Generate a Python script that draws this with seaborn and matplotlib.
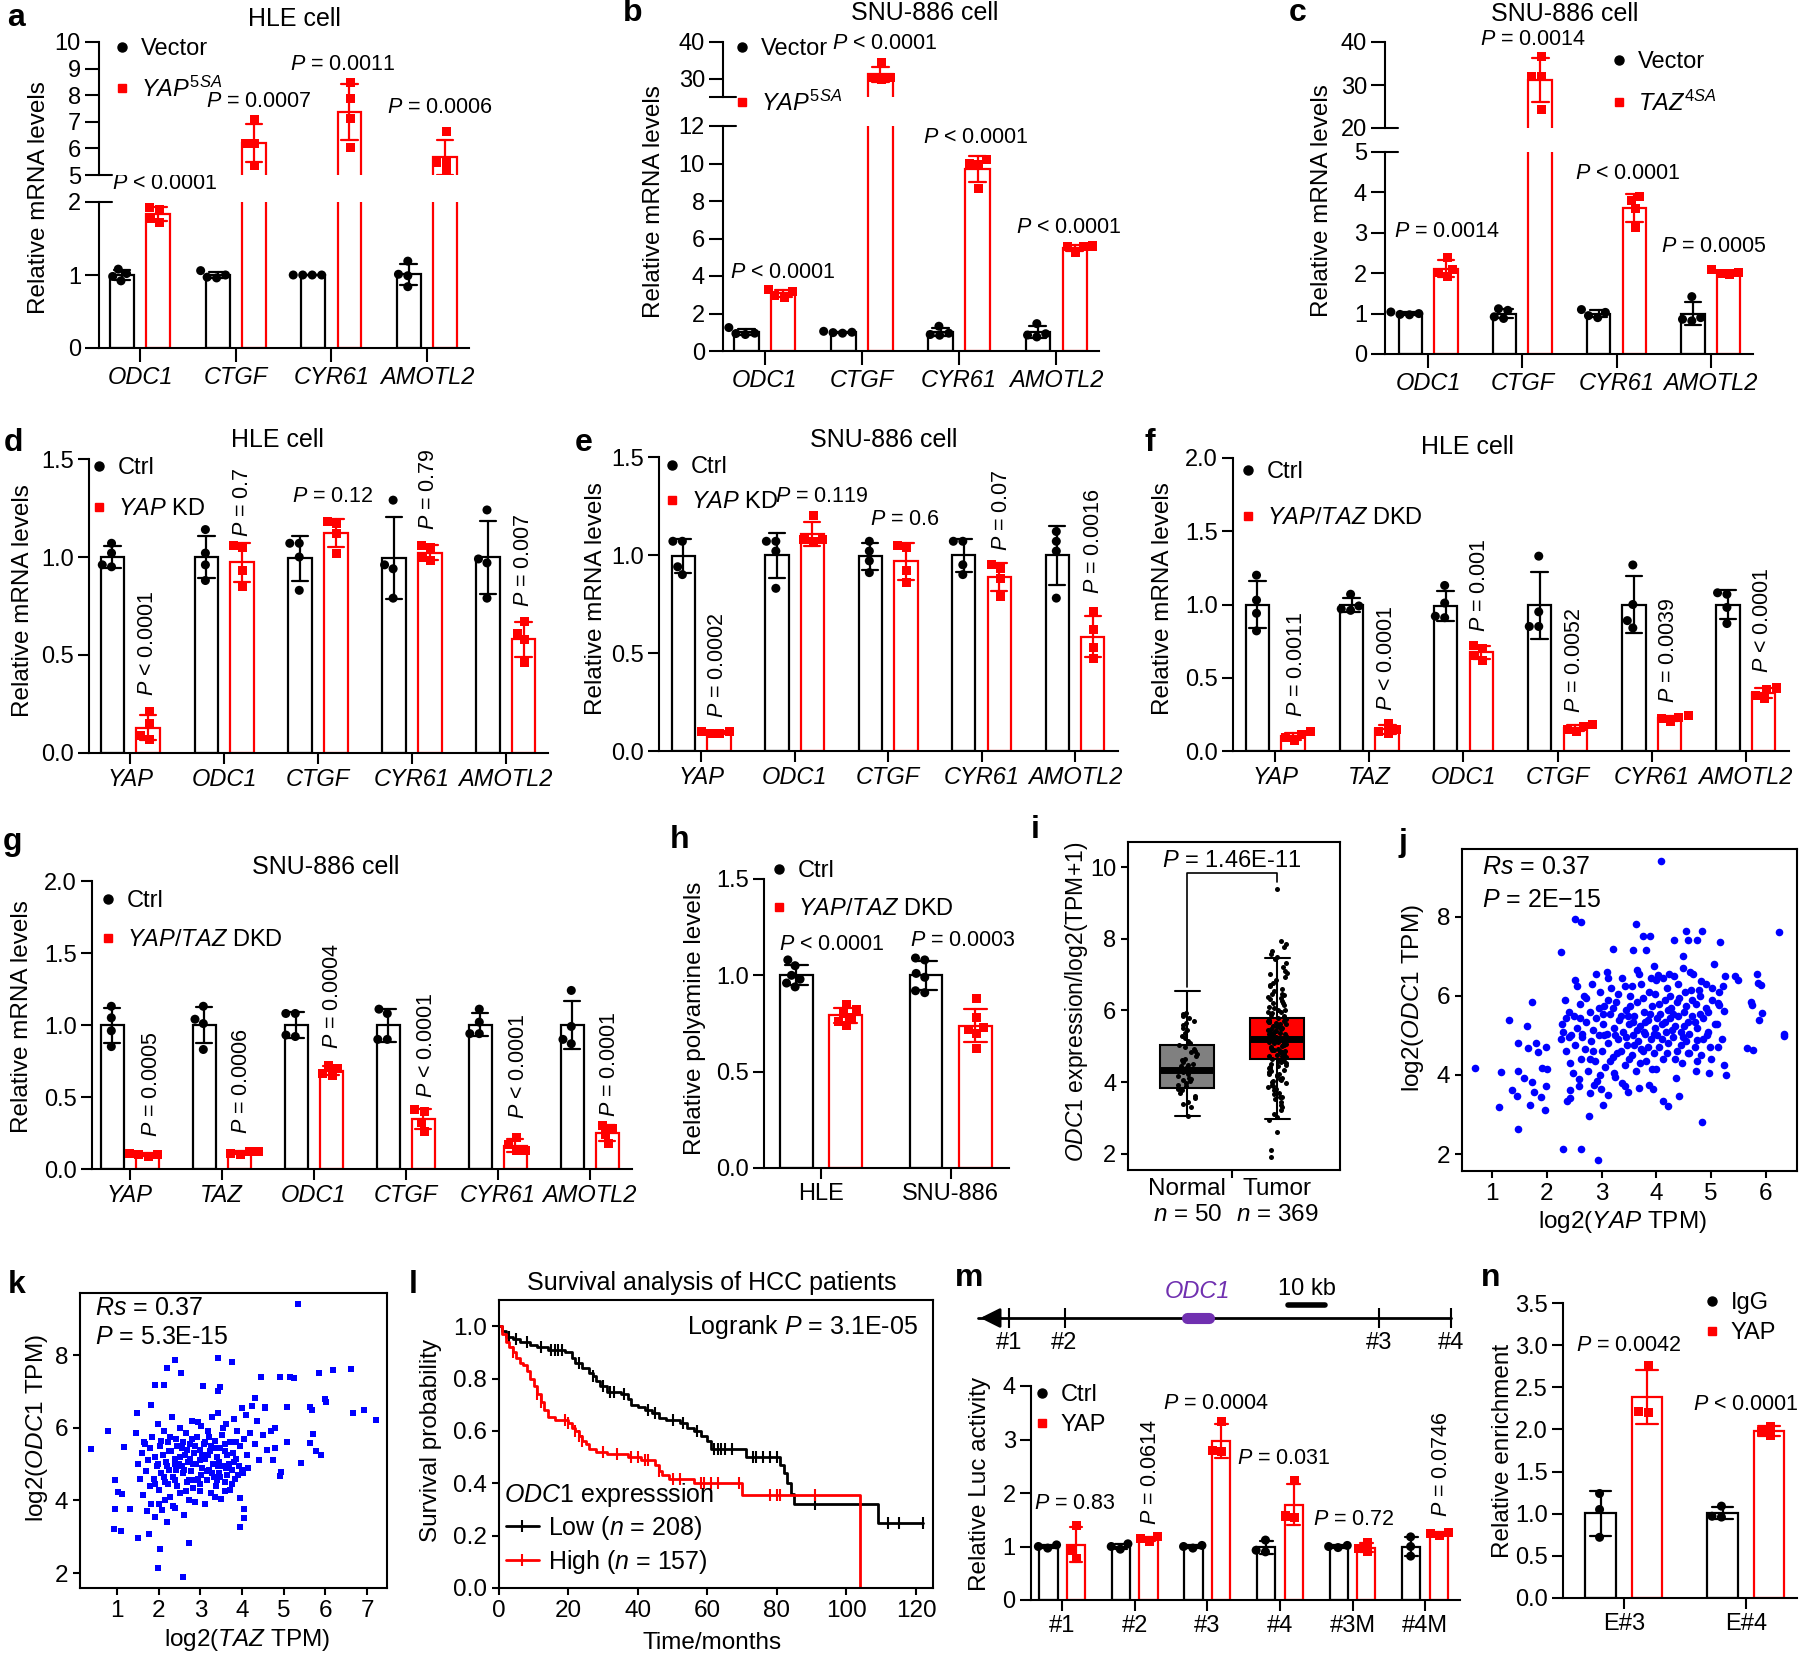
import numpy as np
import pandas as pd
import matplotlib
matplotlib.use("Agg")
import matplotlib.pyplot as plt
from matplotlib.lines import Line2D
from matplotlib.legend import Legend
import seaborn as sns

W, H = 1800, 1655
RED, BLUE, GREY, PURPLE = "#ff0000", "#0000ff", "#808080", "#7030b0"

# ---------------- data ----------------
genes4 = ["ODC1", "CTGF", "CYR61", "AMOTL2"]
a_vector = [[0.92, 0.98, 1.02, 1.08], [0.96, 0.97, 1.0, 1.06], [1.0, 1.0, 1.0, 1.0], [0.84, 0.99, 1.01, 1.19]]
a_yap5sa = [[1.72, 1.78, 1.9, 1.92], [5.35, 6.2, 6.2, 7.1], [6.04, 7.12, 7.86, 8.46], [5.12, 5.46, 5.46, 6.62]]
b_vector = [[0.88, 0.93, 0.95, 1.25], [0.95, 0.98, 1.0, 1.05], [0.84, 0.88, 0.95, 1.32], [0.75, 0.85, 0.92, 1.46]]
b_yap5sa = [[2.88, 2.95, 3.15, 3.3], [29.7, 30.2, 30.4, 34.3], [8.67, 9.96, 10.0, 10.2], [5.28, 5.55, 5.58, 5.6]]
c_vector = [[0.97, 0.98, 1.0, 1.04], [0.88, 0.92, 1.08, 1.12], [0.9, 0.95, 1.03, 1.1], [0.82, 0.86, 0.9, 1.42]]
c_taz4sa = [[1.92, 2.02, 2.1, 2.4], [24.2, 31.9, 32.0, 36.7], [3.13, 3.6, 3.8, 3.9], [1.98, 2.0, 2.02, 2.08]]

genes5 = ["YAP", "ODC1", "CTGF", "CYR61", "AMOTL2"]
d_ctrl = [[0.95, 0.96, 1.02, 1.07], [0.88, 0.96, 1.02, 1.14], [0.83, 1.0, 1.07, 1.07], [0.79, 0.94, 0.96, 1.29], [0.79, 0.97, 0.99, 1.24]]
d_kd = [[0.07, 0.09, 0.15, 0.21], [0.85, 0.93, 1.05, 1.06], [1.02, 1.12, 1.17, 1.18], [0.98, 1.0, 1.05, 1.06], [0.46, 0.58, 0.61, 0.67]]
e_ctrl = [[0.9, 0.94, 1.07, 1.07], [0.83, 1.02, 1.07, 1.07], [0.91, 0.97, 1.02, 1.07], [0.9, 0.95, 1.07, 1.07], [0.78, 1.02, 1.07, 1.12]]
e_kd = [[0.09, 0.09, 0.1, 0.1], [1.07, 1.08, 1.08, 1.2], [0.86, 0.92, 1.04, 1.05], [0.79, 0.88, 0.93, 0.95], [0.47, 0.53, 0.62, 0.71]]

genes6 = ["YAP", "TAZ", "ODC1", "CTGF", "CYR61", "AMOTL2"]
f_ctrl = [[0.82, 0.94, 1.03, 1.2], [0.96, 0.97, 0.99, 1.07], [0.91, 0.92, 1.01, 1.13], [0.85, 0.85, 0.95, 1.33], [0.84, 0.89, 1.0, 1.27], [0.87, 0.98, 1.07, 1.08]]
f_dkd = [[0.07, 0.09, 0.11, 0.13], [0.12, 0.13, 0.15, 0.19], [0.62, 0.65, 0.7, 0.72], [0.13, 0.15, 0.17, 0.18], [0.2, 0.22, 0.23, 0.24], [0.36, 0.38, 0.42, 0.43]]
g_ctrl = [[0.85, 0.96, 1.05, 1.13], [0.83, 1.01, 1.04, 1.13], [0.92, 0.93, 1.08, 1.08], [0.9, 0.9, 1.08, 1.11], [0.94, 0.94, 1.02, 1.11], [0.87, 0.9, 0.99, 1.24]]
g_dkd = [[0.09, 0.1, 0.1, 0.11], [0.1, 0.11, 0.12, 0.12], [0.65, 0.66, 0.7, 0.72], [0.26, 0.32, 0.4, 0.41], [0.13, 0.13, 0.17, 0.22], [0.18, 0.24, 0.28, 0.3]]

cells_h = ["HLE", "SNU-886"]
h_ctrl = [[0.94, 0.96, 0.98, 1.0, 1.05, 1.08], [0.91, 0.92, 0.99, 1.01, 1.08, 1.09]]
h_dkd = [[0.74, 0.76, 0.78, 0.8, 0.82, 0.85], [0.62, 0.7, 0.72, 0.73, 0.78, 0.88]]

# panel i: GEPIA box statistics and sample values
box_groups = ["Normal", "Tumor"]
box_q1 = [3.84, 4.65]
box_med = [4.34, 5.2]
box_q3 = [5.04, 5.79]
box_lo = [3.06, 2.97]
box_hi = [6.54, 7.46]
normal_vals = [3.05, 3.3, 3.4, 3.46, 3.55, 3.62, 3.7, 3.78, 3.82, 3.88, 3.92, 3.97, 4.02, 4.05, 4.08, 4.12, 4.18,
               4.22, 4.27, 4.3, 4.33, 4.36, 4.4, 4.44, 4.48, 4.52, 4.57, 4.62, 4.66, 4.72, 4.78, 4.83, 4.88, 4.93,
               4.98, 5.03, 5.08, 5.15, 5.22, 5.3, 5.38, 5.45, 5.52, 5.6, 5.66, 5.72, 5.78, 5.85, 5.9, 5.93]
tumor_vals = [1.9, 2.1, 2.6, 2.95, 3.02, 3.1, 3.22, 3.31, 3.36, 3.44, 3.52, 3.58, 3.66, 3.7, 3.77, 3.81, 3.86,
              3.93, 3.97, 4.01, 4.06, 4.1, 4.13, 4.17, 4.22, 4.24, 4.29, 4.31, 4.36, 4.4, 4.43, 4.46, 4.5, 4.53,
              4.56, 4.6, 4.63, 4.66, 4.69, 4.71, 4.73, 4.76, 4.79, 4.8, 4.83, 4.86, 4.88, 4.91, 4.93, 4.96, 4.99,
              5.01, 5.03, 5.06, 5.08, 5.11, 5.13, 5.16, 5.18, 5.2, 5.23, 5.25, 5.27, 5.3, 5.33, 5.35, 5.37, 5.4,
              5.43, 5.45, 5.47, 5.5, 5.53, 5.55, 5.58, 5.61, 5.63, 5.66, 5.68, 5.71, 5.74, 5.77, 5.8, 5.84, 5.88,
              5.93, 5.97, 6.02, 6.06, 6.11, 6.16, 6.2, 6.26, 6.31, 6.36, 6.42, 6.47, 6.53, 6.61, 6.68, 6.77, 6.85,
              6.93, 7.02, 7.1, 7.2, 7.32, 7.44, 7.58, 7.67, 7.76, 7.85, 7.95, 9.4,
              4.02, 4.35, 4.58, 4.74, 4.9, 5.04, 5.14, 5.24, 5.34, 5.44, 5.56, 5.67, 5.82, 6.0, 6.22, 6.45,
              4.48, 4.84, 5.09, 5.29, 5.49, 5.72, 5.95, 6.38, 3.6, 3.9, 4.2, 6.7, 7.05, 7.5]

# panel j: log2(YAP TPM) vs log2(ODC1 TPM)
j_points = [
    (0.69, 4.17), (1.16, 4.07), (1.13, 3.18), (1.31, 5.40), (1.36, 3.61), (1.45, 3.47), (1.47, 2.63), (1.47, 4.81),
    (1.47, 4.11), (1.58, 3.92), (1.63, 5.23), (1.65, 4.68), (1.70, 3.23), (1.73, 5.86), (1.72, 3.83), (1.76, 3.58),
    (1.81, 4.81), (1.83, 4.57), (1.90, 3.45), (1.91, 4.17), (1.97, 3.12), (1.99, 4.72), (2.01, 4.15), (1.99, 3.71),
    (2.25, 7.11), (2.30, 2.13), (2.33, 5.91), (2.51, 7.95), (2.63, 7.87), (2.63, 2.12), (2.51, 6.41), (2.93, 1.86),
    (3.02, 3.24), (2.77, 2.95), (3.11, 6.45), (3.20, 7.19), (3.62, 7.81), (3.76, 7.53), (3.88, 7.53), (3.58, 7.17),
    (3.82, 7.17), (4.09, 9.41), (4.32, 7.41), (4.54, 7.64), (4.57, 7.41), (4.75, 7.41), (4.84, 7.64), (4.48, 7.00),
    (5.17, 7.36), (5.05, 6.82), (6.24, 7.61), (6.33, 5.04), (6.33, 4.99), (5.93, 5.57), (5.84, 6.56), (5.86, 6.33),
    (5.91, 6.29), (5.73, 5.84), (5.75, 5.78), (5.88, 5.38), (5.66, 4.68), (5.77, 4.62), (5.44, 6.51), (5.50, 6.41),
    (5.21, 6.26), (5.23, 4.26), (5.28, 4.00), (4.96, 4.05), (4.84, 2.82), (4.41, 3.47), (4.21, 3.22), (4.12, 3.35),
    (3.94, 3.64), (3.87, 3.75), (3.69, 3.67), (3.49, 3.58), (3.42, 3.72), (3.11, 3.50), (2.99, 3.64), (2.86, 3.75),
    (2.79, 3.54), (2.59, 3.71), (2.43, 3.41), (2.36, 3.33), (2.42, 3.61), (4.36, 3.92), (4.58, 4.55), (4.72, 4.11),
    (4.98, 4.72), (5.12, 4.72), (4.94, 5.08), (4.75, 4.89), (5.08, 5.30), (5.14, 5.78), (5.23, 5.61), (5.26, 6.50),
    (5.12, 5.82), (5.01, 6.20), (4.81, 6.37), (4.67, 6.56), (4.48, 6.71), (4.24, 6.56), (3.96, 6.75), (4.03, 6.54),
    (3.64, 6.67), (4.63, 6.16),
    (2.25, 4.9), (2.3, 5.1), (2.28, 5.3), (2.35, 4.6), (2.4, 5.6), (2.42, 4.3), (2.45, 5.0), (2.5, 5.5), (2.52, 4.75),
    (2.55, 5.2), (2.58, 3.9), (2.6, 5.8), (2.62, 4.4), (2.65, 5.05), (2.68, 6.0), (2.7, 4.65), (2.72, 5.35),
    (2.75, 4.1), (2.78, 5.6), (2.8, 4.85), (2.82, 6.3), (2.85, 5.15), (2.88, 4.35), (2.9, 5.45), (2.92, 3.85),
    (2.95, 5.0), (2.97, 6.1), (3.0, 4.6), (3.02, 5.3), (3.05, 5.75), (3.07, 4.2), (3.1, 5.05), (3.12, 4.8),
    (3.15, 5.55), (3.17, 6.2), (3.2, 4.45), (3.22, 5.2), (3.25, 3.95), (3.27, 5.85), (3.3, 4.9), (3.32, 5.4),
    (3.35, 4.6), (3.37, 6.45), (3.4, 5.1), (3.42, 4.25), (3.45, 5.65), (3.47, 4.75), (3.5, 5.3), (3.52, 6.0),
    (3.55, 4.5), (3.57, 5.0), (3.6, 5.5), (3.62, 4.1), (3.65, 5.85), (3.67, 4.85), (3.7, 5.25), (3.72, 6.3),
    (3.75, 4.6), (3.77, 5.6), (3.8, 5.05), (3.82, 4.35), (3.85, 5.4), (3.87, 6.1), (3.9, 4.9), (3.92, 5.75),
    (3.95, 4.55), (3.97, 5.2), (4.0, 6.4), (4.02, 5.0), (4.05, 4.7), (4.07, 5.55), (4.1, 5.3), (4.12, 4.4),
    (4.15, 5.9), (4.17, 5.1), (4.2, 6.2), (4.22, 4.8), (4.25, 5.45), (4.27, 5.7), (4.3, 4.95), (4.32, 6.5),
    (4.35, 5.25), (4.37, 4.6), (4.4, 5.5), (4.42, 5.95), (4.45, 5.1), (4.47, 4.3), (4.5, 5.6), (4.52, 6.1),
    (4.55, 4.85), (4.57, 5.35), (4.6, 5.05), (4.62, 6.6), (4.65, 5.5), (4.7, 4.7), (4.72, 5.8), (4.75, 5.2),
    (4.8, 6.0), (4.82, 4.5), (4.85, 5.45), (4.9, 6.3), (4.92, 5.0), (4.95, 5.6), (5.0, 4.4), (5.02, 5.9),
    (5.1, 5.3), (5.15, 6.1), (5.2, 4.9),
    (2.35, 5.45), (2.48, 4.05), (2.55, 6.25), (2.65, 4.95), (2.72, 5.95), (2.85, 4.6), (2.9, 6.55), (2.98, 4.0),
    (3.05, 5.0), (3.1, 6.6), (3.15, 4.35), (3.2, 5.7), (3.25, 5.0), (3.3, 6.05), (3.35, 5.5), (3.38, 3.8),
    (3.45, 4.95), (3.5, 4.4), (3.55, 6.25), (3.6, 4.75), (3.65, 5.15), (3.7, 4.3), (3.75, 5.95), (3.8, 5.35),
    (3.85, 4.7), (3.9, 6.45), (3.95, 5.05), (4.0, 4.15), (4.05, 5.8), (4.1, 4.9), (4.15, 5.35), (4.2, 4.55),
    (4.25, 6.0), (4.3, 5.55), (4.35, 4.4), (4.4, 6.3), (4.45, 4.75), (4.5, 5.25), (4.55, 5.75), (4.6, 4.55),
    (4.65, 5.9), (4.7, 5.35), (4.75, 4.35), (4.8, 5.55), (4.85, 4.9), (4.9, 5.7), (3.02, 5.55), (3.28, 4.55),
    (3.52, 5.75), (3.78, 5.1), (4.02, 5.45), (4.28, 5.15), (3.42, 6.25), (3.68, 6.55), (3.92, 4.15), (3.12, 5.9),
    (2.78, 4.4), (2.6, 5.45), (2.4, 4.95), (3.58, 5.35), (3.88, 5.55), (4.12, 6.45), (4.38, 5.85), (2.95, 5.7),
    (3.22, 4.05), (3.48, 5.5), (3.72, 4.65), (3.98, 6.05), (4.22, 5.65), (4.48, 4.95), (4.78, 6.15),
]
j_yap = [p[0] for p in j_points]
j_odc1 = [p[1] for p in j_points]

# panel k: log2(TAZ TPM) vs log2(ODC1 TPM)
k_points = [
    (0.38, 5.41), (0.78, 5.92), (0.93, 3.21), (1.10, 3.17), (0.96, 3.76), (0.96, 4.55), (1.03, 4.22), (1.12, 4.18),
    (1.16, 5.48), (1.30, 3.76), (1.48, 6.40), (1.51, 2.98), (1.45, 5.86), (1.76, 3.08), (1.81, 6.62), (1.92, 7.17),
    (2.13, 7.17), (1.99, 2.14), (2.02, 2.66), (2.19, 7.65), (2.40, 7.86), (2.54, 7.52), (2.58, 1.89), (2.72, 2.84),
    (3.06, 7.15), (3.43, 7.93), (3.47, 7.12), (3.43, 7.02), (3.77, 7.82), (3.95, 4.06), (3.95, 3.26), (4.05, 3.76),
    (4.05, 3.51), (4.46, 7.40), (4.92, 7.40), (5.15, 7.40), (5.25, 7.36), (5.35, 9.40), (5.84, 7.51), (6.18, 7.60),
    (6.62, 7.62), (6.66, 6.41), (6.93, 6.49), (7.21, 6.21), (6.01, 6.72), (5.98, 6.78), (5.64, 6.58), (5.68, 6.5),
    (5.70, 5.83), (5.63, 5.57), (5.77, 5.37), (5.90, 5.25), (5.42, 5.04), (5.08, 6.58), (5.08, 5.62), (4.92, 4.66),
    (4.78, 5.43), (4.74, 5.11), (4.94, 4.79), (4.32, 6.81), (4.56, 6.58),
    (1.5, 5.0), (1.55, 4.6), (1.6, 5.3), (1.62, 4.15), (1.65, 5.6), (1.7, 4.8), (1.72, 3.7), (1.75, 5.1),
    (1.78, 4.4), (1.8, 5.45), (1.82, 3.9), (1.85, 5.75), (1.88, 4.6), (1.9, 5.2), (1.92, 3.55), (1.95, 4.95),
    (1.98, 6.1), (2.0, 4.3), (2.02, 5.5), (2.05, 4.75), (2.08, 3.75), (2.1, 5.25), (2.12, 5.9), (2.15, 4.5),
    (2.18, 5.05), (2.2, 3.4), (2.22, 5.6), (2.25, 4.85), (2.28, 4.1), (2.3, 5.35), (2.32, 6.3), (2.35, 4.65),
    (2.38, 5.15), (2.4, 3.8), (2.42, 5.7), (2.45, 4.4), (2.48, 5.0), (2.5, 6.0), (2.52, 4.2), (2.55, 5.45),
    (2.58, 4.75), (2.6, 3.6), (2.62, 5.25), (2.65, 5.85), (2.68, 4.5), (2.7, 5.05), (2.72, 4.0), (2.75, 5.55),
    (2.78, 4.8), (2.8, 6.2), (2.82, 4.35), (2.85, 5.3), (2.88, 3.95), (2.9, 5.0), (2.92, 5.75), (2.95, 4.6),
    (2.98, 5.4), (3.0, 4.25), (3.02, 6.05), (3.05, 4.9), (3.08, 5.55), (3.1, 3.9), (3.12, 5.15), (3.15, 4.55),
    (3.18, 5.9), (3.2, 4.85), (3.22, 5.35), (3.25, 4.2), (3.28, 6.3), (3.3, 5.0), (3.32, 4.65), (3.35, 5.65),
    (3.38, 4.4), (3.4, 5.2), (3.42, 6.4), (3.45, 4.75), (3.48, 5.45), (3.5, 4.05), (3.52, 5.8), (3.55, 4.95),
    (3.58, 4.5), (3.6, 5.35), (3.62, 6.1), (3.65, 4.7), (3.68, 5.0), (3.7, 4.3), (3.72, 5.6), (3.75, 4.85),
    (3.8, 6.25), (3.82, 4.6), (3.85, 5.15), (3.88, 5.9), (3.9, 4.7), (3.95, 5.5), (4.0, 6.55), (4.02, 4.75),
    (4.05, 5.7), (4.1, 6.35), (4.12, 5.25), (4.15, 4.9), (4.2, 5.85), (4.25, 6.6), (4.3, 5.55), (4.35, 6.2),
    (4.4, 5.1), (4.5, 5.8), (4.55, 6.55), (4.6, 5.4), (4.7, 5.9), (4.8, 6.0),
    (1.68, 5.55), (1.9, 4.45), (2.05, 5.65), (2.15, 4.0), (2.25, 5.35), (2.35, 3.85), (2.45, 5.5), (2.55, 4.95),
    (2.65, 4.25), (2.75, 5.15), (2.85, 4.55), (2.95, 6.15), (3.05, 5.25), (3.15, 4.8), (3.25, 5.5), (3.35, 4.1),
    (3.45, 5.05), (3.55, 6.0), (3.65, 5.25), (3.75, 4.45), (3.85, 5.6), (1.98, 5.0), (2.12, 4.65), (2.28, 5.75),
    (2.42, 4.85), (2.58, 5.6), (2.72, 4.55), (2.88, 5.5), (3.02, 4.7), (3.18, 5.25), (3.32, 5.45), (3.48, 4.65),
    (3.62, 4.9), (3.78, 5.3), (3.92, 4.95), (2.22, 4.45), (2.38, 5.0), (2.52, 5.2), (2.68, 5.4), (2.82, 5.0),
    (2.98, 4.45), (3.12, 5.6), (3.28, 4.75), (3.42, 4.95), (3.58, 5.55), (2.0, 3.9), (2.2, 4.95), (2.4, 4.55),
    (2.6, 4.85), (2.8, 5.7), (3.0, 5.1), (3.2, 5.75), (3.4, 4.55), (3.6, 4.25), (3.8, 5.05), (4.0, 4.85),
]
k_taz = [p[0] for p in k_points]
k_odc1 = [p[1] for p in k_points]

# panel l: Kaplan-Meier steps (months, survival) and censor times
low_t = [0, 1, 2, 4, 6, 9, 11, 14, 19, 21, 22, 24, 26, 27, 28, 29, 31, 35, 37, 38, 40, 42, 44, 46, 48, 52, 54,
         56, 58, 60, 61, 71, 81, 82, 83, 84, 85, 109, 122]
low_s = [1.0, 0.98, 0.96, 0.95, 0.94, 0.93, 0.92, 0.91, 0.90, 0.88, 0.86, 0.84, 0.82, 0.81, 0.79, 0.77, 0.75,
         0.74, 0.72, 0.70, 0.69, 0.68, 0.67, 0.65, 0.64, 0.63, 0.61, 0.60, 0.58, 0.56, 0.53, 0.50, 0.47, 0.44,
         0.40, 0.36, 0.32, 0.25, 0.25]
low_cens = [3, 5, 8, 12, 15, 16, 17, 18, 23, 27, 30, 32, 33, 36, 43, 45, 50, 53, 57, 62, 63, 64, 65, 67, 73,
            74, 76, 78, 80, 91, 112, 115, 122]
high_t = [0, 1, 2, 3, 4, 5, 6, 7, 8, 9, 10, 11, 12, 13, 14, 16, 20, 21, 22, 23, 24, 25, 26, 28, 31, 37, 41,
          45, 46, 47, 49, 56, 70, 104]
high_s = [1.0, 0.97, 0.94, 0.92, 0.90, 0.88, 0.86, 0.85, 0.83, 0.80, 0.77, 0.74, 0.71, 0.68, 0.655, 0.64,
          0.63, 0.61, 0.60, 0.58, 0.56, 0.55, 0.53, 0.52, 0.51, 0.50, 0.49, 0.47, 0.445, 0.43, 0.415, 0.40,
          0.355, 0.0]
high_cens = [4, 11, 12, 19, 20, 22, 23, 24, 30, 34, 38, 40, 42, 43, 46, 50, 52, 58, 59, 61, 63, 69, 78, 80, 81, 91]

# panel m: reporter sites (kb from site #1) and luciferase activity
site_names = ["#1", "#2", "#3", "#4"]
site_kb = [0, 15, 100, 119.5]
track_kb = [-8.5, 119.5]
odc1_kb = [48, 54]
scale_kb = [75.5, 85.5]
sites_m = ["#1", "#2", "#3", "#4", "#3M", "#4M"]
m_ctrl = [[0.97, 1.0, 1.03], [0.95, 1.0, 1.05], [0.97, 1.0, 1.02], [0.9, 0.93, 1.12], [0.98, 1.0, 1.02], [0.82, 1.0, 1.18]]
m_yap = [[0.78, 0.93, 1.4], [1.1, 1.15, 1.18], [2.77, 2.8, 3.33], [1.55, 1.57, 2.23], [0.9, 0.97, 1.07], [1.2, 1.24, 1.27]]

# panel n: ChIP enrichment
sites_n = ["E#3", "E#4"]
n_igg = [[0.72, 1.05, 1.24], [0.96, 0.97, 1.09]]
n_yap = [[2.2, 2.21, 2.76], [1.93, 1.97, 2.04]]

# ---------------- style ----------------
sns.set_theme(style="ticks")
plt.rcParams["font.family"] = ["Liberation Sans", "DejaVu Sans"]
plt.rcParams.update({
    "mathtext.fontset": "custom",
    "mathtext.rm": "Liberation Sans",
    "mathtext.sf": "Liberation Sans",
    "mathtext.it": "Liberation Sans:italic",
    "mathtext.bf": "Liberation Sans:bold",
    "axes.linewidth": 1.5,
    "axes.edgecolor": "black",
    "xtick.color": "black",
    "ytick.color": "black",
    "text.color": "black",
})

fig = plt.figure(figsize=(W / 100, H / 100), dpi=100)


def px_axes(x0, y0, x1, y1):
    return fig.add_axes([x0 / W, 1 - y1 / H, (x1 - x0) / W, (y1 - y0) / H])


def ftext(x, y, s, **kw):
    kw.setdefault("ha", "center")
    kw.setdefault("va", "center")
    kw.setdefault("fontsize", 17.5)
    fig.text(x / W, 1 - y / H, s, **kw)


def letter(x, y, s):
    ftext(x, y, s, fontsize=23, fontweight="bold")


def ylab(x, y, s, fs=17.5):
    ftext(x, y, s, rotation=90, fontsize=fs)


def P(s):
    return r"$\mathit{P}$ " + s


def ptext(ax, x, y, s, rot=False, fs=15.5, ha="center"):
    ax.text(x, y, s, rotation=90 if rot else 0, ha=ha, va="bottom" if rot else "center",
            fontsize=fs, clip_on=False)


def long_df(cats, groups, series):
    rows = [(c, g, v) for g, vals in zip(groups, series) for c, vs in zip(cats, vals) for v in vs]
    return pd.DataFrame(rows, columns=["cat", "group", "value"])


def bars(ax, cats, groups, series, colors=("black", RED), markers=("o", "s")):
    df = long_df(cats, groups, series)
    pal = dict(zip(groups, colors))
    for g, c in zip(groups, colors):
        sns.barplot(data=df[df["group"] == g], x="cat", y="value", hue="group", order=cats,
                    hue_order=groups, palette=pal, dodge=True, fill=False, width=0.76, gap=0.34,
                    linewidth=1.6, errorbar="sd", capsize=0.35,
                    err_kws={"color": c, "linewidth": 1.6}, legend=False, ax=ax)
    for g, m in zip(groups, markers):
        sns.swarmplot(data=df[df["group"] == g], x="cat", y="value", hue="group", order=cats,
                      hue_order=groups, palette=pal, dodge=True, marker=m, size=6.5,
                      linewidth=0, legend=False, ax=ax, zorder=4)
    ax.set_xlabel("")
    ax.set_ylabel("")


def style(ax, cats, xlim, ylim, yticks, ylabels=None, italic=True, xaxis=True, tl=8):
    ax.set_xlim(*xlim)
    ax.set_ylim(*ylim)
    ax.set_yticks(yticks, ylabels if ylabels is not None else [f"{t:g}" for t in yticks])
    sns.despine(ax=ax)
    if xaxis:
        ax.set_xticks(range(len(cats)), cats, fontstyle="italic" if italic else "normal")
    else:
        ax.spines["bottom"].set_visible(False)
        ax.set_xticks([])
    ax.tick_params(length=tl, width=1.5, labelsize=17, pad=3)


def break_marks(low, up, n_px=13):
    for ax, y in ((low, 1), (up, 0)):
        w = ax.get_position().width * W
        ax.plot([0, n_px / w], [y, y], transform=ax.transAxes, color="black", lw=1.5, clip_on=False)


def legend_row(ax, handle, label, left_px, y_px, hl=0.8, fs=17):
    lg = Legend(ax, [handle], [label], loc="center left",
                bbox_to_anchor=(left_px / W, 1 - y_px / H), bbox_transform=fig.transFigure,
                frameon=False, fontsize=fs, handlelength=hl, handletextpad=0.4,
                borderpad=0, borderaxespad=0)
    ax.add_artist(lg)


def dot_legend(ax, labels, x, ys, colors=("black", RED), markers=("o", "s")):
    for lab, y, c, m in zip(labels, ys, colors, markers):
        h = Line2D([], [], ls="none", marker=m, color=c, ms=6.5 if m == "o" else 6)
        legend_row(ax, h, lab, x - 0.4 * 17 * 100 / 72, y)


dec = lambda ts: [f"{t:.1f}" for t in ts]

# ---------------- a ----------------
a_lo, a_up = px_axes(99, 202, 469, 348), px_axes(99, 42, 469, 175)
for ax in (a_lo, a_up):
    bars(ax, genes4, ["Vector", "YAP5SA"], [a_vector, a_yap5sa])
style(a_lo, genes4, (-0.43, 3.44), (0, 2), [0, 1, 2], tl=10)
style(a_up, genes4, (-0.43, 3.44), (5, 10), [5, 6, 7, 8, 9, 10], xaxis=False, tl=10)
break_marks(a_lo, a_up)
ptext(a_lo, 0.26, 2.26, P("< 0.0001"))
ptext(a_up, 1.24, 7.78, P("= 0.0007"))
ptext(a_up, 2.12, 9.17, P("= 0.0011"))
ptext(a_up, 3.14, 7.55, P("= 0.0006"))
dot_legend(a_up, ["Vector", r"$\mathit{YAP}^{\mathit{5SA}}$"], 122, [49, 89])
letter(16, 18, "a"); ftext(294, 19, "HLE cell", fontsize=18)
ylab(39, 198, "Relative mRNA levels")

# ---------------- b ----------------
b_lo, b_up = px_axes(723, 126, 1099, 351), px_axes(723, 42, 1099, 97)
for ax in (b_lo, b_up):
    bars(ax, genes4, ["Vector", "YAP5SA"], [b_vector, b_yap5sa])
style(b_lo, genes4, (-0.43, 3.44), (0, 12), [0, 2, 4, 6, 8, 10, 12], tl=10)
style(b_up, genes4, (-0.43, 3.44), (25, 40), [25, 30, 40], ["", "30", "40"], xaxis=False, tl=10)
break_marks(b_lo, b_up)
ptext(b_lo, 0.18, 4.2, P("< 0.0001"))
ptext(b_up, 1.24, 39.5, P("< 0.0001"))
ptext(b_lo, 2.17, 11.4, P("< 0.0001"))
ptext(b_lo, 3.13, 6.6, P("< 0.0001"))
dot_legend(b_up, ["Vector", r"$\mathit{YAP}^{\mathit{5SA}}$"], 742, [49, 103])
letter(633, 13, "b"); ftext(925, 13, "SNU-886 cell", fontsize=18)
ylab(654, 202, "Relative mRNA levels")

# ---------------- c ----------------
c_lo, c_up = px_axes(1385, 152, 1753, 354), px_axes(1385, 42, 1753, 128)
for ax in (c_lo, c_up):
    bars(ax, genes4, ["Vector", "TAZ4SA"], [c_vector, c_taz4sa])
style(c_lo, genes4, (-0.46, 3.45), (0, 5), [0, 1, 2, 3, 4, 5], tl=10)
style(c_up, genes4, (-0.46, 3.45), (20, 40), [20, 30, 40], xaxis=False, tl=10)
break_marks(c_lo, c_up)
ptext(c_lo, 0.2, 3.02, P("= 0.0014"))
ptext(c_up, 1.11, 40.5, P("= 0.0014"))
ptext(c_lo, 2.12, 4.48, P("< 0.0001"))
ptext(c_lo, 3.03, 2.67, P("= 0.0005"))
dot_legend(c_up, ["Vector", r"$\mathit{TAZ}^{\mathit{4SA}}$"], 1619, [62, 103])
letter(1298, 13, "c"); ftext(1565, 14, "SNU-886 cell", fontsize=18)
ylab(1322, 201, "Relative mRNA levels")

# ---------------- d ----------------
ax = px_axes(89, 459, 548, 753)
bars(ax, genes5, ["Ctrl", "KD"], [d_ctrl, d_kd])
style(ax, genes5, (-0.44, 4.45), (0, 1.5), [0, 0.5, 1, 1.5], dec([0, 0.5, 1, 1.5]))
ptext(ax, 0.18, 0.29, P("< 0.0001"), rot=True)
ptext(ax, 1.2, 1.10, P("= 0.7"), rot=True)
ptext(ax, 2.16, 1.31, P("= 0.12"))
ptext(ax, 3.18, 1.14, P("= 0.79"), rot=True)
ptext(ax, 4.19, 0.745, P("= 0.007"), rot=True)
dot_legend(ax, ["Ctrl", r"$\mathit{YAP}$ KD"], 99, [468, 509])
letter(13, 443, "d"); ftext(277, 440, "HLE cell", fontsize=18)
ylab(23, 601, "Relative mRNA levels")

# ---------------- e ----------------
ax = px_axes(659, 457, 1118, 751)
bars(ax, genes5, ["Ctrl", "KD"], [e_ctrl, e_kd])
style(ax, genes5, (-0.45, 4.46), (0, 1.5), [0, 0.5, 1, 1.5], dec([0, 0.5, 1, 1.5]))
ptext(ax, 0.18, 0.17, P("= 0.0002"), rot=True)
ptext(ax, 1.29, 1.30, P("= 0.119"))
ptext(ax, 2.18, 1.18, P("= 0.6"))
ptext(ax, 3.21, 1.02, P("= 0.07"), rot=True)
ptext(ax, 4.2, 0.80, P("= 0.0016"), rot=True)
dot_legend(ax, ["Ctrl", r"$\mathit{YAP}$ KD"], 672, [467, 502])
letter(584, 443, "e"); ftext(884, 440, "SNU-886 cell", fontsize=18)
ylab(596, 599, "Relative mRNA levels")

# ---------------- f ----------------
ax = px_axes(1233, 458, 1789, 751)
bars(ax, genes6, ["Ctrl", "DKD"], [f_ctrl, f_dkd])
style(ax, genes6, (-0.45, 5.46), (0, 2), [0, 0.5, 1, 1.5, 2], dec([0, 0.5, 1, 1.5, 2]))
for x, y, s in [(0.23, 0.23, "= 0.0011"), (1.18, 0.27, "< 0.0001"), (2.17, 0.81, "= 0.001"),
                (3.18, 0.26, "= 0.0052"), (4.18, 0.33, "= 0.0039"), (5.18, 0.53, "< 0.0001")]:
    ptext(ax, x, y, P(s), rot=True)
dot_legend(ax, ["Ctrl", r"$\mathit{YAP/TAZ}$ DKD"], 1248, [472, 518])
letter(1150, 443, "f"); ftext(1467, 447, "HLE cell", fontsize=18)
ylab(1163, 599, "Relative mRNA levels")

# ---------------- g ----------------
ax = px_axes(92, 881, 632, 1169)
bars(ax, genes6, ["Ctrl", "DKD"], [g_ctrl, g_dkd])
style(ax, genes6, (-0.41, 5.46), (0, 2), [0, 0.5, 1, 1.5, 2], dec([0, 0.5, 1, 1.5, 2]))
for x, y, s in [(0.24, 0.22, "= 0.0005"), (1.22, 0.24, "= 0.0006"), (2.2, 0.83, "= 0.0004"),
                (3.23, 0.49, "< 0.0001"), (4.23, 0.35, "< 0.0001"), (5.21, 0.36, "= 0.0001")]:
    ptext(ax, x, y, P(s), rot=True)
dot_legend(ax, ["Ctrl", r"$\mathit{YAP/TAZ}$ DKD"], 108, [901, 940])
letter(12, 842, "g"); ftext(326, 867, "SNU-886 cell", fontsize=18)
ylab(22, 1017, "Relative mRNA levels")

# ---------------- h ----------------
ax = px_axes(764, 879, 1009, 1168)
bars(ax, cells_h, ["Ctrl", "DKD"], [h_ctrl, h_dkd])
style(ax, cells_h, (-0.44, 1.45), (0, 1.5), [0, 0.5, 1, 1.5], dec([0, 0.5, 1, 1.5]), italic=False)
ptext(ax, 0.08, 1.16, P("< 0.0001"))
ptext(ax, 1.09, 1.18, P("= 0.0003"))
dot_legend(ax, ["Ctrl", r"$\mathit{YAP/TAZ}$ DKD"], 779, [871, 909])
letter(680, 840, "h")
ylab(695, 1018, "Relative polyamine levels")

# ---------------- i ----------------
ax = px_axes(1128, 842, 1340, 1170)
stats = [dict(med=m, q1=q1, q3=q3, whislo=lo, whishi=hi, fliers=[])
         for m, q1, q3, lo, hi in zip(box_med, box_q1, box_q3, box_lo, box_hi)]
bp = ax.bxp(stats, positions=[0, 1], widths=0.6, patch_artist=True, showfliers=False,
            medianprops=dict(color="black", linewidth=5), whiskerprops=dict(color="black", lw=1.5),
            capprops=dict(color="black", lw=1.5), capwidths=0.28,
            boxprops=dict(edgecolor="black", linewidth=1.5))
for patch, col in zip(bp["boxes"], [GREY, RED]):
    patch.set_facecolor(col)
df_i = pd.DataFrame({"group": ["Normal"] * len(normal_vals) + ["Tumor"] * len(tumor_vals),
                     "value": normal_vals + tumor_vals})
np.random.seed(3)
sns.stripplot(data=df_i, x="group", y="value", order=box_groups, color="black", size=3.6,
              jitter=0.11, linewidth=0, ax=ax, zorder=5)
ax.set_xlim(-0.66, 1.7)
ax.set_ylim(1.55, 10.7)
ax.set_yticks([2, 4, 6, 8, 10])
ax.set_xticks([0, 1], ["Normal\n" + r"$\mathit{n}$ = 50", "Tumor\n" + r"$\mathit{n}$ = 369"])
ax.set_xticks([0.5], minor=True)
ax.tick_params(axis="x", which="major", length=0, labelsize=17.5, pad=6)
ax.tick_params(axis="x", which="minor", length=6, width=1.5)
ax.tick_params(axis="y", length=5, width=1.5, labelsize=17)
ax.set_xlabel(""); ax.set_ylabel("")
ax.plot([0, 0, 1, 1], [6.65, 9.83, 9.83, 9.58], color="black", lw=1.2)
ax.text(0.49, 10.16, P("= 1.46E-11"), ha="center", va="center", fontsize=17)
letter(1035, 830, "i")
ylab(1077, 1002, r"$\mathit{ODC1}$ expression/log2(TPM+1)", fs=16.5)

# ---------------- j ----------------
ax = px_axes(1462, 849, 1797, 1171)
sns.scatterplot(x=j_yap, y=j_odc1, color=BLUE, s=30, linewidth=0, ax=ax)
ax.set_xlim(0.45, 6.57); ax.set_ylim(1.57, 9.72)
ax.set_xticks(range(1, 7)); ax.set_yticks([2, 4, 6, 8])
ax.tick_params(length=5, width=1.5, labelsize=17.5)
ax.text(0.82, 9.27, r"$\mathit{Rs}$ = 0.37", ha="left", va="center", fontsize=18)
ax.text(0.82, 8.43, P("= 2E\u221215"), ha="left", va="center", fontsize=18)
letter(1403, 843, "j")
ylab(1413, 998, r"log2($\mathit{ODC1}$ TPM)")
ftext(1622, 1222, r"log2($\mathit{YAP}$ TPM)")

# ---------------- k ----------------
ax = px_axes(80, 1293, 387, 1588)
sns.scatterplot(x=k_taz, y=k_odc1, color=BLUE, s=24, marker="s", linewidth=0, ax=ax)
ax.set_xlim(0.11, 7.48); ax.set_ylim(1.59, 9.71)
ax.set_xticks(range(1, 8)); ax.set_yticks([2, 4, 6, 8])
ax.tick_params(length=5, width=1.5, labelsize=17.5)
ax.text(0.47, 9.3, r"$\mathit{Rs}$ = 0.37", ha="left", va="center", fontsize=18)
ax.text(0.47, 8.5, P("= 5.3E-15"), ha="left", va="center", fontsize=18)
letter(17, 1285, "k")
ylab(37, 1428, r"log2($\mathit{ODC1}$ TPM)")
ftext(247, 1640, r"log2($\mathit{TAZ}$ TPM)")

# ---------------- l ----------------
ax = px_axes(499, 1300, 933, 1588)
for t, s, cens, col in [(low_t, low_s, low_cens, "black"), (high_t, high_s, high_cens, RED)]:
    sns.lineplot(x=t, y=s, drawstyle="steps-post", color=col, lw=2, ax=ax)
    idx = np.searchsorted(t, cens, side="right") - 1
    ax.plot(cens, np.array(s)[idx], ls="none", marker="|", ms=9, mew=1.5, color=col)
ax.set_xlim(0, 124.9); ax.set_ylim(0, 1.1)
ax.set_xticks(range(0, 121, 20)); ax.set_yticks([0, 0.2, 0.4, 0.6, 0.8, 1.0], dec([0, 0.2, 0.4, 0.6, 0.8, 1.0]))
ax.tick_params(length=5, width=1.5, labelsize=17.5)
ax.text(120.6, 0.996, "Logrank " + P("= 3.1E-05"), ha="right", va="center", fontsize=18)
ftext(504, 1495, r"$\mathit{ODC1}$ expresssion", ha="left", fontsize=18)
legend_row(ax, Line2D([], [], color="black", lw=2, marker="|", ms=8, mew=1.5), r"Low ($\mathit{n}$ = 208)",
           506, 1528, hl=1.3, fs=18)
legend_row(ax, Line2D([], [], color=RED, lw=2, marker="|", ms=8, mew=1.5), r"High ($\mathit{n}$ = 157)",
           506, 1562, hl=1.3, fs=18)
letter(413, 1285, "l"); ftext(712, 1283, "Survival analysis of HCC patients", fontsize=18)
ylab(431, 1440, "Survival probability")
ftext(712, 1643, "Time/months")

# ---------------- m ----------------
tr = px_axes(960, 1275, 1470, 1355)
tr.set_xlim((960 - 1009) / 3.7, (1470 - 1009) / 3.7); tr.set_ylim(0, 1); tr.axis("off")
yl = 0.4625
tr.plot(track_kb, [yl, yl], color="black", lw=2)
tr.annotate("", xy=(track_kb[0], yl), xytext=(track_kb[0] + 7, yl),
            arrowprops=dict(arrowstyle="-|>", color="black", lw=2, mutation_scale=30))
tr.vlines(site_kb, 0.3375, 0.5875, color="black", lw=1.5)
for name, kb in zip(site_names, site_kb):
    tr.text(kb, 0.15, name, ha="center", va="center", fontsize=17)
tr.plot(odc1_kb, [yl, yl], color=PURPLE, lw=8, solid_capstyle="round")
tr.text(np.mean(odc1_kb), 0.79, "ODC1", color=PURPLE, style="italic", ha="center", va="center", fontsize=17)
tr.plot(scale_kb, [0.625, 0.625], color="black", lw=4)
tr.text(np.mean(scale_kb), 0.82, "10 kb", ha="center", va="center", fontsize=17)

ax = px_axes(1031, 1386, 1460, 1600)
bars(ax, sites_m, ["Ctrl", "YAP"], [m_ctrl, m_yap])
style(ax, sites_m, (-0.43, 5.48), (0, 4), [0, 1, 2, 3, 4], italic=False)
ptext(ax, 0.18, 1.81, P("= 0.83"))
ptext(ax, 1.21, 1.40, P("= 0.0614"), rot=True)
ptext(ax, 2.12, 3.68, P("= 0.0004"))
ptext(ax, 3.05, 2.65, P("= 0.031"))
ptext(ax, 4.01, 1.51, P("= 0.72"))
ptext(ax, 5.23, 1.55, P("= 0.0746"), rot=True)
dot_legend(ax, ["Ctrl", "YAP"], 1042, [1395, 1425])
letter(969, 1278, "m")
ylab(980, 1484, "Relative Luc activity")

# ---------------- n ----------------
ax = px_axes(1563, 1303, 1797, 1598)
bars(ax, sites_n, ["IgG", "YAP"], [n_igg, n_yap])
nt = [0, 0.5, 1, 1.5, 2, 2.5, 3, 3.5]
style(ax, sites_n, (-0.5, 1.42), (0, 3.5), nt, dec(nt), italic=False)
ptext(ax, 0.04, 2.99, P("= 0.0042"))
ptext(ax, 1.0, 2.29, P("< 0.0001"))
dot_legend(ax, ["IgG", "YAP"], 1712, [1303, 1333])
letter(1491, 1278, "n")
ylab(1503, 1451, "Relative enrichment")

fig.savefig("out.png", dpi=100)
